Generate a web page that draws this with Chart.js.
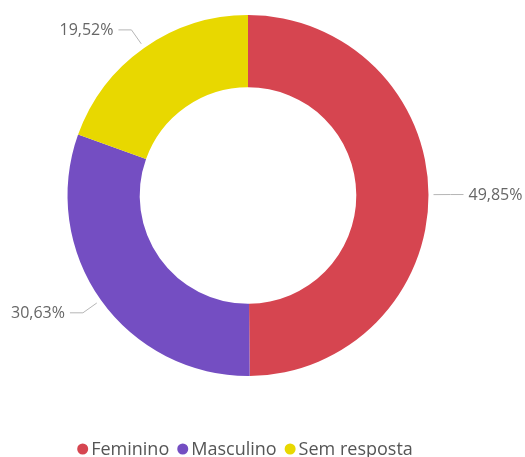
<!DOCTYPE html>
<html>
<head>
<meta charset="utf-8">
<script src="https://cdn.jsdelivr.net/npm/chart.js@4.4.1/dist/chart.umd.min.js"></script>
<style>
  html, body { margin: 0; padding: 0; background: #fff; }
  #wrap { width: 525px; height: 457px; position: relative; }
</style>
</head>
<body>
<div id="wrap"><canvas id="genderChart"></canvas></div>
<script>
// data
const categories = ["Feminino", "Masculino", "Sem resposta"];
const percentages = [49.85, 30.63, 19.52];
const sliceColors = ["#D64550", "#744EC2", "#E8D800"];

const FONT = "'Open Sans', 'Noto Sans', sans-serif";

// percentage labels with leader lines, drawn outside each slice
const sliceLabels = {
  id: "sliceLabels",
  afterDatasetsDraw(chart) {
    const ctx = chart.ctx;
    const arcs = chart.getDatasetMeta(0).data;
    ctx.save();
    ctx.font = "16px " + FONT;
    ctx.textBaseline = "middle";
    arcs.forEach((arc, i) => {
      const { x, y, startAngle, endAngle, outerRadius } = arc.getProps(["x", "y", "startAngle", "endAngle", "outerRadius"], true);
      const mid = (startAngle + endAngle) / 2;
      const cos = Math.cos(mid), sin = Math.sin(mid);
      const right = cos >= 0;
      const x0 = x + cos * (outerRadius + 5), y0 = y + sin * (outerRadius + 5);
      const x1 = x + cos * (outerRadius + 22), y1 = y + sin * (outerRadius + 22);
      const x2 = x1 + (right ? 13 : -13);

      ctx.strokeStyle = "#B5B5B5";
      ctx.lineWidth = 1;
      ctx.beginPath();
      ctx.moveTo(x0, y0);
      ctx.lineTo(x1, y1);
      ctx.lineTo(x2, y1);
      ctx.stroke();

      ctx.fillStyle = "#666666";
      ctx.textAlign = right ? "left" : "right";
      const txt = percentages[i].toFixed(2).replace(".", ",") + "%";
      ctx.fillText(txt, x2 + (right ? 5 : -5), y1 + 1);
    });
    ctx.restore();
  }
};

// round-dot legend under the doughnut
const dotLegend = {
  id: "dotLegend",
  afterDraw(chart) {
    const ctx = chart.ctx;
    const area = chart.chartArea;
    ctx.save();
    ctx.font = "18px " + FONT;
    ctx.textBaseline = "middle";
    ctx.textAlign = "left";
    const dot = 11, gapText = 3, gapItem = 8;
    const widths = categories.map(c => dot + gapText + ctx.measureText(c).width);
    const total = widths.reduce((a, b) => a + b, 0) + gapItem * (categories.length - 1);
    let cx = (area.left + area.right) / 2 - 3 - total / 2;
    const cy = 449;
    categories.forEach((c, i) => {
      ctx.fillStyle = sliceColors[i];
      ctx.beginPath();
      ctx.arc(cx + dot / 2, cy, dot / 2, 0, Math.PI * 2);
      ctx.fill();
      ctx.fillStyle = "#555555";
      ctx.fillText(c, cx + dot + gapText, cy + 1);
      cx += widths[i] + gapItem;
    });
    ctx.restore();
  }
};

new Chart(document.getElementById("genderChart"), {
  type: "doughnut",
  data: {
    labels: categories,
    datasets: [{
      data: percentages,
      backgroundColor: sliceColors,
      borderWidth: 0,
      hoverOffset: 0
    }]
  },
  options: {
    responsive: true,
    maintainAspectRatio: false,
    animation: false,
    cutout: "60%",
    layout: { padding: { top: 15, bottom: 81, left: 0, right: 29 } },
    plugins: {
      legend: { display: false },
      tooltip: { enabled: false }
    }
  },
  plugins: [sliceLabels, dotLegend]
});
</script>
</body>
</html>
